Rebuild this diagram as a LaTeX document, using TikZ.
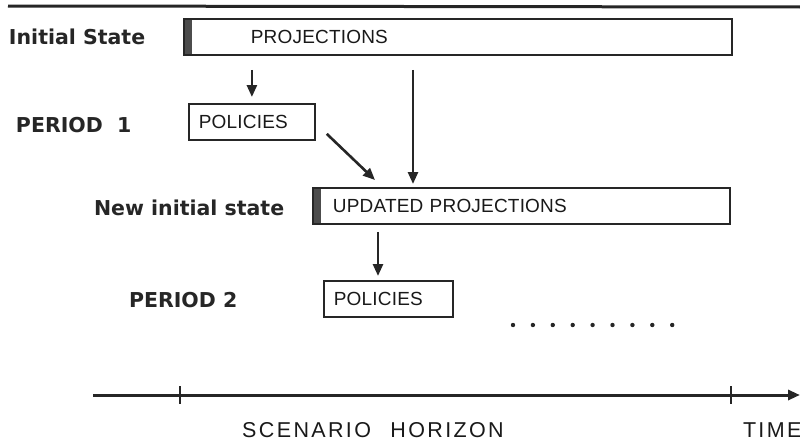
\documentclass[tikz,border=0pt]{standalone}
\usepackage{fontspec}
\setmainfont{Liberation Sans}
\newfontfamily\labelfont{DejaVu Sans}
\newfontfamily\boxfont{Liberation Sans}[LetterSpace=1]
\newfontfamily\axisfont{Liberation Sans}[LetterSpace=11]
\usetikzlibrary{arrows.meta, positioning}

\begin{document}
\begin{tikzpicture}[x=1pt,y=-1pt,>={Triangle[length=12pt,width=10pt]}, draw=black!85, line width=2pt]
    \tikzstyle{state label}=[anchor=west, inner sep=0pt, text=black!85, font=\labelfont\bfseries\fontsize{20.5}{24}\selectfont]
    \tikzstyle{box}=[draw, line width=1.8pt, anchor=north west, minimum height=36pt, inner ysep=0pt, align=left, text=black!90, font=\boxfont\fontsize{19}{22}\selectfont]
    \tikzstyle{state box}=[box, path picture={\fill[black!70] (path picture bounding box.north west) rectangle ([xshift=8pt]path picture bounding box.south west);}]
    \tikzstyle{flow}=[->, line width=2.6pt]
    \tikzstyle{axis label}=[inner sep=0pt, text=black!90, font=\axisfont\fontsize{21.5}{25}\selectfont]

    \useasboundingbox (0,0) rectangle (800,447);
    \draw[line width=3pt] (8,6) -- (800,7);

    % states and policies
    \node[state box, inner xsep=67pt, text width=414pt] (S-0) at (183,18) {PROJECTIONS};
    \node[box, inner xsep=10pt, text width=106pt] (P-1) at (188,103) {POLICIES};
    \node[state box, inner xsep=20pt, text width=377pt] (S-1) at (312,187) {UPDATED PROJECTIONS};
    \node[box, inner xsep=10pt, text width=109pt] (P-2) at (323,280) {POLICIES};

    \node[state label] (L-0) at (8,37) {Initial State};
    \node[state label] (L-1) at (15,125) {PERIOD\ \ 1};
    \node[state label] (L-2) at (93,208) {New initial state};
    \node[state label] (L-3) at (128,300) {PERIOD 2};

    \coordinate (S-1 top) at ([xshift=101pt]S-1.north west);
    \coordinate (P-2 top) at ([xshift=55pt]P-2.north west);

    \draw[flow, shorten <=14pt, shorten >=6pt] (P-1.north |- S-0.south) -- (P-1.north);
    \draw[flow, shorten <=14pt, shorten >=3pt] (S-1 top |- S-0.south) -- (S-1 top);
    \draw[flow] ([shift={(11,12)}]P-1.east) -- ([shift={(63,-7)}]S-1.north west);
    \draw[flow, shorten <=7pt, shorten >=4pt] (P-2 top |- S-1.south) -- (P-2 top);

    \foreach \i in {0,...,8}
        \fill[black!85] (513+19.9*\i,325) circle (2.2);

    % time axis
    \coordinate (T-0) at (93,395);
    \coordinate (T-1) at (800,395);
    \draw[->, line width=3pt] (T-0) -- (T-1);
    \foreach \x in {180,731}
        \draw[line width=2.8pt] (\x,386) -- (\x,404);

    \node[axis label] (H) at (373,430) {SCENARIO\hspace{0.9em}HORIZON};
    \node[axis label, anchor=west] (T) at (742,430) {TIME};
\end{tikzpicture}
\end{document}
